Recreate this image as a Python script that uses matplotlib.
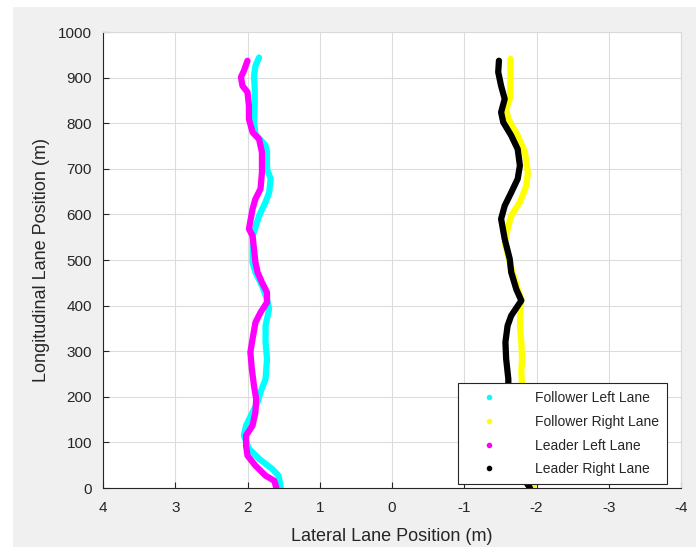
import matplotlib.pyplot as plt
from matplotlib.lines import Line2D
from matplotlib.patches import Rectangle

plt.rcParams['font.family'] = ['Liberation Sans', 'DejaVu Sans']

# Longitudinal position (m) and lateral position (m) for each trace
follower_left_y = [2, 27, 42, 64, 86, 115, 137, 166, 188, 210, 239, 283, 320, 356, 393, 414,
                   444, 473, 495, 546, 552, 597, 627, 648, 678, 700, 736, 751, 776, 802, 838,
                   875, 904, 926, 944]
follower_left_x = [1.54, 1.57, 1.66, 1.84, 1.98, 2.05, 2.02, 1.93, 1.86, 1.82, 1.75, 1.73, 1.75,
                   1.75, 1.70, 1.73, 1.80, 1.89, 1.93, 1.93, 1.93, 1.84, 1.75, 1.70, 1.68, 1.73,
                   1.73, 1.75, 1.89, 1.91, 1.90, 1.90, 1.91, 1.89, 1.84]

leader_left_y = [0, 16, 27, 49, 71, 93, 115, 137, 166, 195, 224, 261, 298, 327, 363, 385, 407,
                 429, 451, 473, 495, 553, 568, 612, 634, 656, 692, 736, 765, 780, 809, 838, 868,
                 882, 901, 915, 937]
leader_left_x = [1.60, 1.63, 1.75, 1.89, 2.00, 2.02, 2.02, 1.93, 1.89, 1.88, 1.91, 1.94, 1.96,
                 1.93, 1.89, 1.82, 1.73, 1.73, 1.80, 1.86, 1.89, 1.93, 1.98, 1.93, 1.89, 1.82,
                 1.80, 1.80, 1.84, 1.93, 1.98, 1.98, 2.00, 2.07, 2.09, 2.05, 2.00]

follower_right_y = [0, 20, 50, 100, 150, 200, 254, 283, 320, 356, 393, 414, 436, 458, 487, 539,
                    568, 597, 627, 663, 692, 736, 773, 809, 831, 853, 897, 941]
follower_right_x = [-1.95, -1.98, -1.93, -1.88, -1.85, -1.81, -1.79, -1.80, -1.79, -1.77, -1.78,
                    -1.79, -1.74, -1.70, -1.64, -1.56, -1.60, -1.65, -1.77, -1.86, -1.88, -1.84,
                    -1.74, -1.61, -1.58, -1.63, -1.64, -1.64]

leader_right_y = [0, 12, 31, 60, 100, 150, 200, 239, 283, 320, 356, 378, 411, 436, 473, 502,
                  546, 590, 619, 648, 678, 707, 743, 773, 802, 824, 853, 882, 912, 937]
leader_right_x = [-1.91, -1.86, -1.74, -1.68, -1.63, -1.61, -1.61, -1.61, -1.58, -1.57, -1.60,
                  -1.65, -1.79, -1.72, -1.65, -1.63, -1.56, -1.51, -1.56, -1.65, -1.74, -1.77,
                  -1.74, -1.65, -1.54, -1.51, -1.56, -1.51, -1.47, -1.48]

labels = ['Follower Left Lane', 'Follower Right Lane', 'Leader Left Lane', 'Leader Right Lane']
colors = ['#00ffff', '#ffff00', '#ff00ff', '#000000']
x_ticks = [4, 3, 2, 1, 0, -1, -2, -3, -4]

fig = plt.figure(figsize=(6.96, 5.47), dpi=100, facecolor='#f0f0f0')
# white strips of the original screenshot
fig.patches.append(Rectangle((0, 0), 13 / 696, 1, transform=fig.transFigure,
                             facecolor='white', edgecolor='none', zorder=-1))
fig.patches.append(Rectangle((0, 1 - 7 / 547), 1, 7 / 547, transform=fig.transFigure,
                             facecolor='white', edgecolor='none', zorder=-1))

ax = fig.add_axes([103 / 696, 1 - 488 / 547, 578 / 696, 456 / 547])
ax.set_facecolor('white')

series = [(follower_left_x, follower_left_y), (follower_right_x, follower_right_y),
          (leader_left_x, leader_left_y), (leader_right_x, leader_right_y)]
for (xs, ys), c in zip(series, colors):
    ax.plot(xs, ys, color=c, lw=4.5, solid_capstyle='round', solid_joinstyle='round')

ax.set_xlim(4, -4)
ax.set_ylim(0, 1000)
ax.set_xticks(x_ticks)
ax.set_xticklabels([str(t) for t in x_ticks])
ax.set_yticks(range(0, 1001, 100))
ax.grid(True, color='#dcdcdc', lw=0.8)
ax.set_axisbelow(True)

for side in ['left', 'bottom']:
    ax.spines[side].set_color('#262626')
    ax.spines[side].set_linewidth(0.8)
for side in ['top', 'right']:
    ax.spines[side].set_color('#d9d9d9')
    ax.spines[side].set_linewidth(0.8)
ax.tick_params(direction='in', length=4, width=0.8, colors='#262626', labelsize=11,
               labelcolor='#262626')
ax.tick_params(axis='x', pad=9)
ax.tick_params(axis='y', pad=8)

ax.set_xlabel('Lateral Lane Position (m)', fontsize=13, color='#262626', labelpad=10)
ax.set_ylabel('Longitudinal Lane Position (m)', fontsize=13, color='#262626', labelpad=6)

handles = [Line2D([], [], ls='none', marker='.', markersize=6, color=c) for c in colors]
leg = ax.legend(handles, labels, loc='lower right', bbox_to_anchor=(0.976, 0.009),
                fontsize=10, frameon=True, fancybox=False, framealpha=1,
                edgecolor='#262626', handlelength=3.4, handletextpad=1.65,
                borderpad=0.55, labelspacing=0.7, borderaxespad=0)
leg.get_frame().set_linewidth(0.8)
for t in leg.get_texts():
    t.set_color('#262626')

fig.savefig('out.png', dpi=100, facecolor=fig.get_facecolor())
